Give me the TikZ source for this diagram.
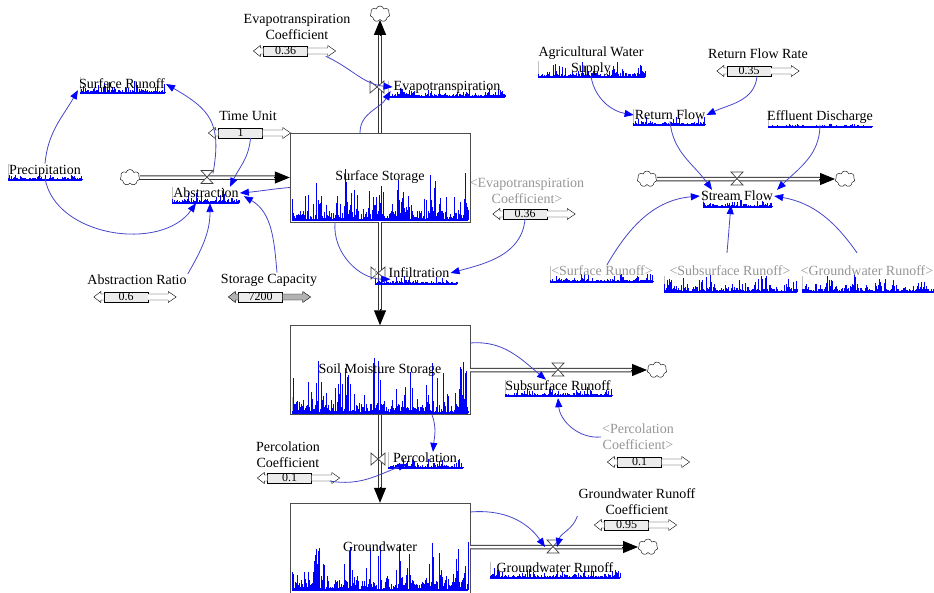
\documentclass[tikz,border=0pt]{standalone}
\usepackage{fontspec}
\setmainfont{Liberation Serif}
\usetikzlibrary{positioning}
\usetikzlibrary{arrows.meta,shapes.symbols}

\definecolor{linkblue}{RGB}{70,70,200}
\definecolor{ghost}{RGB}{150,150,150}

\newcommand{\sparkline}[5]{%
  \pgfmathsetseed{#5}%
  \draw[gray!50, line width=0.5pt] (#1,#3) -- ++(0,-16);
  \draw[spark] (#1,#3) -- (#2,#3);
  \foreach \xx in {#1,...,#2}{%
    \pgfmathsetmacro{\hh}{#4*(0.85*rnd^3*abs(sin(6*\xx))+0.15*rnd^2)+0.8}%
    \draw[spark] (\xx,#3) -- ++(0,-\hh);
  }%
}
\newcommand{\slider}[4][white]{%
  \node[slidebox] (#2) at (#3) {#4};
  \draw[fill=#1] ([shift={(0,-3)}]#2.west) -- ++(-3,0) -- ++(0,-2.5) -- ++(-7,5.5) -- ++(7,5.5) -- ++(0,-2.5) -- ++(3,0);
  \draw[fill=#1] ([shift={(0,-3)}]#2.east) -- ++(20,0) -- ++(0,-2.5) -- ++(8,5.5) -- ++(-8,5.5) -- ++(0,-2.5) -- ++(-20,0);
}

\begin{document}
\begin{tikzpicture}[x=1pt,y=-1pt,
  lbl/.style={font=\fontsize{14}{16}\selectfont, inner sep=1pt, align=center},
  ghostlbl/.style={lbl, text=ghost},
  stock/.style={draw=black!70, fill=white, minimum width=180pt, minimum height=89pt, inner sep=0},
  slidebox/.style={draw, fill=gray!15, minimum width=44pt, minimum height=10pt, inner sep=0, font=\fontsize{12}{12}\selectfont},
  cloudn/.style={cloud, cloud puffs=7, draw, fill=white, minimum width=20pt, minimum height=16pt, inner sep=0},
  pipe/.style={draw=black!80, line width=1pt, double=white, double distance=2.5pt},
  pipetip/.style={-{Triangle[length=15pt,width=12pt]}, line width=1pt},
  valvest/.style={draw=black!75, fill=white, line width=0.7pt},
  valveh/.pic={\draw[valvest] (-6,-7) -- (6,-7) -- (-6,6) -- (6,6) -- cycle;},
  valvev/.pic={\draw[valvest] (-7,-6) -- (-7,6) -- (7,-6) -- (7,6) -- cycle;},
  spark/.style={blue, line width=0.8pt},
  conn/.style={draw=linkblue, line width=0.8pt, -{Triangle[length=9pt,width=7pt,color=blue]}}]

\useasboundingbox (0,0) rectangle (934,592);

\node[stock] (ss) at (380,177.5) {};
\node[stock] (sm) at (380,370) {};
\node[stock, minimum height=94pt] (gw) at (380,550) {};

\node[cloudn] (cevap) at (380,14) {};
\node[cloudn] (cabst) at (130,177.5) {};
\node[cloudn] (csubr) at (657,370) {};
\node[cloudn] (cgwr) at (648,547) {};
\node[cloudn] (cin) at (647,179) {};
\node[cloudn] (cout) at (845,179) {};

\draw[pipe] (ss.north) -- ([yshift=-15pt]cevap.south);
\draw[pipetip] ([yshift=-16pt]cevap.south) -- (cevap.south);
\draw[pipe] (cabst.east) -- ([xshift=-15pt]ss.west);
\draw[pipetip] ([xshift=-16pt]ss.west) -- (ss.west);
\draw[pipe] (ss.south) -- ([yshift=15pt]sm.north);
\draw[pipetip] ([yshift=16pt]sm.north) -- (sm.north);
\draw[pipe] (sm.south) -- ([yshift=15pt]gw.north);
\draw[pipetip] ([yshift=16pt]gw.north) -- (gw.north);
\draw[pipe] (sm.east) -- ([xshift=-15pt]csubr.west);
\draw[pipetip] ([xshift=-16pt]csubr.west) -- (csubr.west);
\draw[pipe] (gw.east |- cgwr) -- ([xshift=-15pt]cgwr.west);
\draw[pipetip] ([xshift=-16pt]cgwr.west) -- (cgwr.west);
\draw[pipe] (cin.east) -- ([xshift=-15pt]cout.west);
\draw[pipetip] ([xshift=-16pt]cout.west) -- (cout.west);

\coordinate (evapv) at (377,87);
\coordinate (abstv) at (207,177.5);
\coordinate (infilv) at (378,273);
\coordinate (subrv) at (558,370);
\coordinate (percv) at (378,459);
\coordinate (gwrv) at (553,547);
\coordinate (streamv) at (737,179);
\pic at (evapv) {valvev};
\pic at (abstv) {valveh};
\pic at (infilv) {valvev};
\pic at (subrv) {valveh};
\pic at (percv) {valvev};
\pic at (gwrv) {valveh};
\pic at (streamv) {valveh};

\sparkline{292}{468}{220}{64}{11}
\node[lbl] (sslab) at (ss) {Surface Storage};
\sparkline{292}{468}{413}{64}{23}
\node[lbl] (smlab) at (sm) {Soil Moisture Storage};
\sparkline{292}{468}{590}{58}{37}
\node[lbl] (gwlab) at (380,547) {Groundwater};

\sparkline{388}{505}{97}{10}{3}
\node[lbl] (evap) at (447,87) {Evapotranspiration};
\sparkline{172}{239}{203}{14}{5}
\node[lbl] (abst) at (206,193) {Abstraction};
\sparkline{375}{457}{284}{10}{7}
\node[lbl] (infil) at (419,273) {Infiltration};
\sparkline{505}{612}{396}{10}{9}
\node[lbl] (subr) at (558,386) {Subsurface Runoff};
\sparkline{388}{463}{468}{12}{13}
\node[lbl] (perc) at (425,458) {Percolation};
\sparkline{490}{620}{578}{10}{15}
\node[lbl] (gwr) at (555,568) {Groundwater Runoff};
\sparkline{703}{772}{207}{8}{17}
\node[lbl] (stream) at (737,196) {Stream Flow};

\sparkline{80}{165}{93}{12}{19}
\node[lbl] (srun) at (122,84) {Surface Runoff};
\sparkline{8}{82}{180}{8}{21}
\node[lbl] (prec) at (45,171) {Precipitation};
\sparkline{538}{645}{77}{16}{25}
\node[lbl] (ags) at (591,61) {Agricultural Water\\Supply};
\sparkline{633}{705}{125}{8}{27}
\node[lbl] (rf) at (670,115) {Return Flow};
\sparkline{768}{872}{127}{3}{29}
\node[lbl] (eff) at (820,117) {Effluent Discharge};
\sparkline{550}{653}{282}{10}{31}
\node[ghostlbl] (ssr) at (602,271) {<Surface Runoff>};
\sparkline{664}{797}{292}{20}{33}
\node[ghostlbl] (ssub) at (730,271) {<Subsurface Runoff>};
\sparkline{802}{934}{292}{20}{35}
\node[ghostlbl] (sgwr) at (867,271) {<Groundwater Runoff>};

\node[lbl] (etc) at (297,27) {Evapotranspiration\\Coefficient};
\slider{etcv}{285.5,51}{0.36}
\node[lbl] (tu) at (248,116) {Time Unit};
\slider{tuv}{240.5,133}{1}
\node[ghostlbl] (etc2) at (527,191) {<Evapotranspiration\\Coefficient>};
\slider{etc2v}{525,214}{0.36}
\node[lbl] (ar) at (137,280) {Abstraction Ratio};
\slider{arv}{126,297}{0.6}
\node[lbl] (sc) at (269,280) {Storage Capacity};
\slider[gray!60]{scv}{260.5,297}{7200}
\node[lbl] (rfr) at (758,54) {Return Flow Rate};
\slider{rfrv}{749,71}{0.35}
\node[ghostlbl] (pc2) at (638,437) {<Percolation\\Coefficient>};
\slider{pc2v}{639.5,462}{0.1}
\node[lbl] (pc) at (288,455) {Percolation\\Coefficient};
\slider{pcv}{289.5,478}{0.1}
\node[lbl] (grc) at (637,502) {Groundwater Runoff\\Coefficient};
\slider{grcv}{626.5,525}{0.95}

\draw[conn] (prec.north) to[out=85, in=-120] (srun.south west);
\draw[conn] (prec.south) to[out=-80, in=-125] ([shift={(-10,4)}]abst.south);
\draw[conn] ([shift={(6,-4)}]abstv) to[out=80, in=-30, looseness=1.3] (srun.east);
\draw[conn] ([xshift=10pt]tuv.south) to[out=-95, in=65] ([xshift=24pt]abst.north);
\draw[conn] ([yshift=-10pt]ss.west) to[out=185, in=5] (abst.east);
\draw[conn] (ar.north east) to[out=60, in=-90] ([shift={(4,4)}]abst.south);
\draw[conn] ([xshift=8pt]sc.north) to[out=95, in=-30] ([shift={(4,-3)}]abst.south east);
\draw[conn] ([xshift=18pt]etcv.south east) to[out=-25, in=175] (evap.west);
\draw[conn] ([xshift=-20pt]ss.north) to[out=90, in=-120] ([shift={(-2,4)}]evap.west);
\draw[conn] ([xshift=-45pt]ss.south) to[out=-95, in=180] ([xshift=3pt]infil.south west);
\draw[conn] (etc2v.south) to[out=-95, in=15] (infil.east);
\draw[conn] ([yshift=27pt]sm.east) to[out=5, in=140] ([xshift=-12pt]subr.north);
\draw[conn] (pc2.west) to[out=185, in=-85] ([yshift=-6pt]subr.south);
\draw[conn] ([xshift=52pt]sm.south) to[out=-70, in=85] ([xshift=8pt]perc.north);
\draw[conn] ([shift={(18,3)}]pcv.east) to[out=-10, in=-160] ([xshift=-18pt]perc.south);
\draw[conn] ([yshift=38pt]gw.east) to[out=5, in=125] ([xshift=-8pt]gwrv);
\draw[conn] (grc.south west) to[out=-110, in=75] ([xshift=4pt]gwrv);
\draw[conn] (ags.south) to[out=-80, in=170] (rf.west);
\draw[conn] ([xshift=8pt]rfrv.south) to[out=-95, in=25] (rf.east);
\draw[conn] (rf.south) to[out=-85, in=125] ([xshift=-25pt]stream.north);
\draw[conn] (eff.south) to[out=-90, in=45] ([xshift=40pt]stream.north);
\draw[conn] ([xshift=5pt]ssr.north) to[out=60, in=185] (stream.west);
\draw[conn] ([shift={(-3,-12)}]ssub.north) to[out=85, in=-95] ([shift={(-6,3)}]stream.south);
\draw[conn] ([shift={(-10,-12)}]sgwr.north) to[out=125, in=-10] (stream.east);
\end{tikzpicture}
\end{document}
